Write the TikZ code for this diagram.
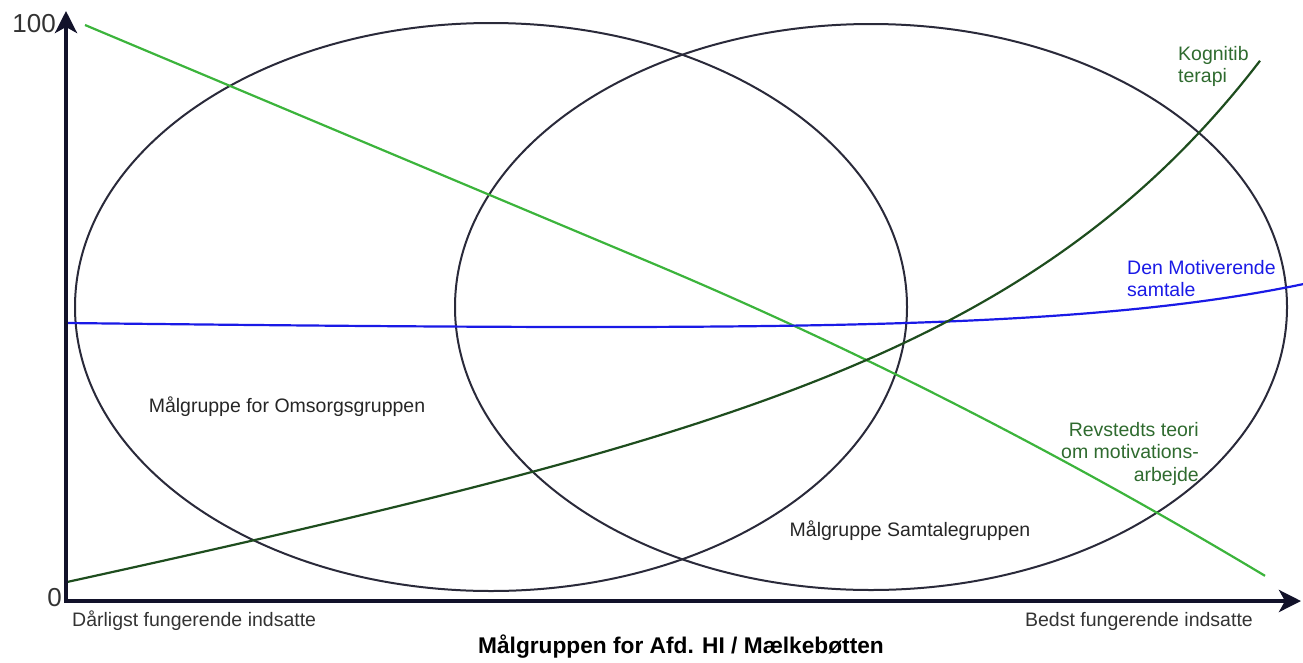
\documentclass[tikz,border=0pt]{standalone}
\usepackage{fontspec}
\setmainfont{Liberation Sans}
\usetikzlibrary{arrows.meta}
\definecolor{axiscol}{HTML}{12122A}
\definecolor{ellcol}{HTML}{2A2A3A}
\definecolor{lgreen}{HTML}{3CB43C}
\definecolor{dgreen}{HTML}{1E4D1E}
\definecolor{bluecol}{HTML}{1A1AE6}
\definecolor{labgreen}{HTML}{2F6B2F}
\definecolor{textgray}{HTML}{333333}
\begin{document}
\begin{tikzpicture}[x=1pt,y=-1pt,
  lbl/.style={inner sep=0pt, font=\fontsize{19.5}{22.5}\selectfont},
  axisline/.style={line width=4pt, draw=axiscol, -{Stealth[length=22pt,width=22pt,inset=6pt]}},
  ell/.style={draw=ellcol, line width=2pt},
  curve/.style={line width=2.2pt}]
\useasboundingbox (0,0) rectangle (1303,662);
% ellipses
\draw[ell] (491,307) ellipse [x radius=416, y radius=284];
\draw[ell] (871,307) ellipse [x radius=416, y radius=283];
% curves
\draw[curve, lgreen] plot[domain=85:1265, samples=120, smooth]
  (\x, {25+0.42*(\x-85)+1.46*(max(\x-650,0)/100)*(max(\x-650,0)/100)});
\draw[curve, bluecol] plot[domain=0:1236, samples=120, smooth]
  ({67+\x}, {323+0.01302*\x-0.3955*(exp(0.004*\x)-1)});
\draw[curve, dgreen] plot[domain=0:1193, samples=120, smooth]
  ({67+\x}, {600-(18+0.2097*\x+2.32*(exp(0.004*\x)-1))});
% axes
\coordinate (O) at (66,601);
\coordinate (Ytip) at (66,11);
\coordinate (Xtip) at (1301,601);
\draw[axisline, line cap=rect] (O) -- (Ytip);
\draw[axisline, line cap=rect] (O) -- (Xtip);
% axis labels
\node[lbl, font=\fontsize{26}{28}\selectfont, text=textgray, anchor=east] (l100) at (56,24) {100};
\node[lbl, font=\fontsize{26}{28}\selectfont, text=textgray, anchor=east] (l0) at (62,598) {0};
\node[lbl, text=textgray, anchor=west] (worst) at (72,621) {Dårligst fungerende indsatte};
\node[lbl, text=textgray, anchor=east] (best) at (1253,621) {Bedst fungerende indsatte};
\node[lbl, font=\bfseries\fontsize{22.7}{25}\selectfont, text=black] (title) at (681,647) {Målgruppen for Afd. HI / Mælkebøtten};
% region labels
\node[lbl, text=black!85] (omsorg) at (287,407) {Målgruppe for Omsorgsgruppen};
\node[lbl, text=black!85] (samtale) at (910,531) {Målgruppe Samtalegruppen};
% curve labels
\node[lbl, text=labgreen, align=left, anchor=north west] (kog) at (1178,46) {Kognitib\\terapi};
\node[lbl, text=bluecol, align=left, anchor=north west] (mot) at (1127,260) {Den Motiverende\\samtale};
\node[lbl, text=labgreen, align=right, anchor=north east] (rev) at (1199,422) {Revstedts teori\\om motivations-\\arbejde};
\end{tikzpicture}
\end{document}
